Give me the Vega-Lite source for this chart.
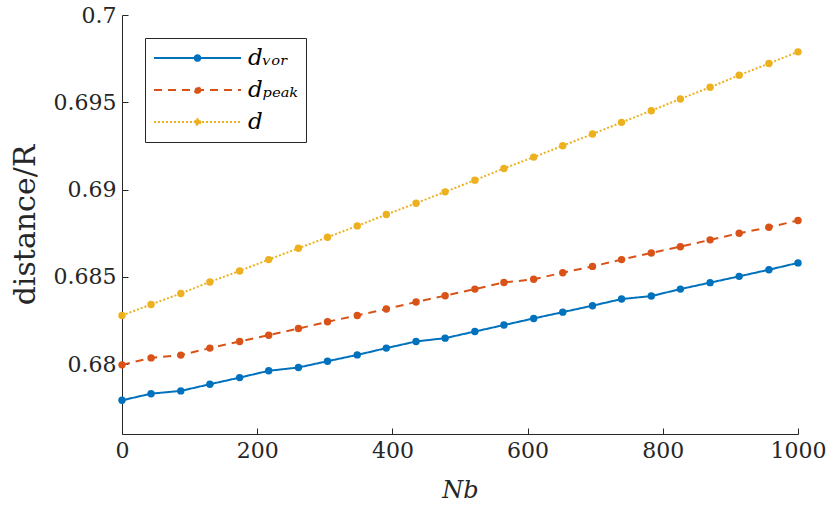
{
  "$schema": "https://vega.github.io/schema/vega-lite/v6.json",
  "width": 676,
  "height": 419,
  "autosize": {"type": "none"},
  "padding": {"left": 122, "top": 15, "right": 34, "bottom": 81},
  "background": "white",
  "config": {
    "font": "DejaVu Serif",
    "view": {"stroke": null},
    "axis": {
      "grid": false,
      "domainColor": "#262626",
      "domainWidth": 1,
      "tickColor": "#262626",
      "tickWidth": 1,
      "tickSize": -6,
      "labelFlush": false,
      "labelColor": "#262626",
      "labelFont": "DejaVu Serif",
      "labelFontSize": 22,
      "titleColor": "#262626",
      "titleFont": "DejaVu Serif",
      "titleFontWeight": "normal"
    },
    "legend": {
      "labelFont": "DejaVu Serif",
      "labelFontStyle": "italic",
      "labelFontSize": 23,
      "labelColor": "#000000"
    }
  },
  "data": {
    "values": [
      {"Nb": 0, "series": "dᵥₒᵣ", "value": 0.67793},
      {"Nb": 43, "series": "dᵥₒᵣ", "value": 0.67831},
      {"Nb": 87, "series": "dᵥₒᵣ", "value": 0.67847},
      {"Nb": 130, "series": "dᵥₒᵣ", "value": 0.67885},
      {"Nb": 174, "series": "dᵥₒᵣ", "value": 0.67923},
      {"Nb": 217, "series": "dᵥₒᵣ", "value": 0.67962},
      {"Nb": 261, "series": "dᵥₒᵣ", "value": 0.67981},
      {"Nb": 304, "series": "dᵥₒᵣ", "value": 0.68017},
      {"Nb": 348, "series": "dᵥₒᵣ", "value": 0.68053},
      {"Nb": 391, "series": "dᵥₒᵣ", "value": 0.68092},
      {"Nb": 435, "series": "dᵥₒᵣ", "value": 0.6813},
      {"Nb": 478, "series": "dᵥₒᵣ", "value": 0.68149},
      {"Nb": 522, "series": "dᵥₒᵣ", "value": 0.68187},
      {"Nb": 565, "series": "dᵥₒᵣ", "value": 0.68224},
      {"Nb": 609, "series": "dᵥₒᵣ", "value": 0.68262},
      {"Nb": 652, "series": "dᵥₒᵣ", "value": 0.68298},
      {"Nb": 696, "series": "dᵥₒᵣ", "value": 0.68335},
      {"Nb": 739, "series": "dᵥₒᵣ", "value": 0.68373},
      {"Nb": 783, "series": "dᵥₒᵣ", "value": 0.6839},
      {"Nb": 826, "series": "dᵥₒᵣ", "value": 0.6843},
      {"Nb": 870, "series": "dᵥₒᵣ", "value": 0.68467},
      {"Nb": 913, "series": "dᵥₒᵣ", "value": 0.68503},
      {"Nb": 957, "series": "dᵥₒᵣ", "value": 0.68541},
      {"Nb": 1000, "series": "dᵥₒᵣ", "value": 0.6858},
      {"Nb": 0, "series": "dₚₑₐₖ", "value": 0.67996},
      {"Nb": 43, "series": "dₚₑₐₖ", "value": 0.68036},
      {"Nb": 87, "series": "dₚₑₐₖ", "value": 0.68052},
      {"Nb": 130, "series": "dₚₑₐₖ", "value": 0.68092},
      {"Nb": 174, "series": "dₚₑₐₖ", "value": 0.6813},
      {"Nb": 217, "series": "dₚₑₐₖ", "value": 0.68166},
      {"Nb": 261, "series": "dₚₑₐₖ", "value": 0.68204},
      {"Nb": 304, "series": "dₚₑₐₖ", "value": 0.68243},
      {"Nb": 348, "series": "dₚₑₐₖ", "value": 0.68279},
      {"Nb": 391, "series": "dₚₑₐₖ", "value": 0.68316},
      {"Nb": 435, "series": "dₚₑₐₖ", "value": 0.68356},
      {"Nb": 478, "series": "dₚₑₐₖ", "value": 0.68392},
      {"Nb": 522, "series": "dₚₑₐₖ", "value": 0.6843},
      {"Nb": 565, "series": "dₚₑₐₖ", "value": 0.68468},
      {"Nb": 609, "series": "dₚₑₐₖ", "value": 0.68486},
      {"Nb": 652, "series": "dₚₑₐₖ", "value": 0.68524},
      {"Nb": 696, "series": "dₚₑₐₖ", "value": 0.6856},
      {"Nb": 739, "series": "dₚₑₐₖ", "value": 0.68599},
      {"Nb": 783, "series": "dₚₑₐₖ", "value": 0.68637},
      {"Nb": 826, "series": "dₚₑₐₖ", "value": 0.68673},
      {"Nb": 870, "series": "dₚₑₐₖ", "value": 0.68712},
      {"Nb": 913, "series": "dₚₑₐₖ", "value": 0.6875},
      {"Nb": 957, "series": "dₚₑₐₖ", "value": 0.68784},
      {"Nb": 1000, "series": "dₚₑₐₖ", "value": 0.68823},
      {"Nb": 0, "series": "d", "value": 0.68279},
      {"Nb": 43, "series": "d", "value": 0.68342},
      {"Nb": 87, "series": "d", "value": 0.68405},
      {"Nb": 130, "series": "d", "value": 0.68471},
      {"Nb": 174, "series": "d", "value": 0.68534},
      {"Nb": 217, "series": "d", "value": 0.68599},
      {"Nb": 261, "series": "d", "value": 0.68664},
      {"Nb": 304, "series": "d", "value": 0.68727},
      {"Nb": 348, "series": "d", "value": 0.68792},
      {"Nb": 391, "series": "d", "value": 0.68857},
      {"Nb": 435, "series": "d", "value": 0.68922},
      {"Nb": 478, "series": "d", "value": 0.68987},
      {"Nb": 522, "series": "d", "value": 0.69054},
      {"Nb": 565, "series": "d", "value": 0.69121},
      {"Nb": 609, "series": "d", "value": 0.69186},
      {"Nb": 652, "series": "d", "value": 0.69251},
      {"Nb": 696, "series": "d", "value": 0.69318},
      {"Nb": 739, "series": "d", "value": 0.69385},
      {"Nb": 783, "series": "d", "value": 0.69452},
      {"Nb": 826, "series": "d", "value": 0.69519},
      {"Nb": 870, "series": "d", "value": 0.69586},
      {"Nb": 913, "series": "d", "value": 0.69655},
      {"Nb": 957, "series": "d", "value": 0.69722},
      {"Nb": 1000, "series": "d", "value": 0.69789}
    ]
  },
  "encoding": {
    "x": {
      "field": "Nb",
      "type": "quantitative",
      "scale": {"domain": [0, 1000], "nice": false},
      "axis": {
        "values": [0, 200, 400, 600, 800, 1000],
        "format": "d",
        "labelPadding": 12,
        "title": "Nb",
        "titleFontSize": 24,
        "titleFontStyle": "italic",
        "titlePadding": 17
      }
    },
    "y": {
      "field": "value",
      "type": "quantitative",
      "scale": {"domain": [0.676, 0.7], "nice": false, "zero": false},
      "axis": {
        "values": [0.68, 0.685, 0.69, 0.695, 0.7],
        "format": ".3~f",
        "labelPadding": 12,
        "title": "distance/R",
        "titleFontSize": 30,
        "titlePadding": 13
      }
    },
    "color": {
      "field": "series",
      "type": "nominal",
      "scale": {
        "domain": ["dᵥₒᵣ", "dₚₑₐₖ", "d"],
        "range": ["#0072BD", "#D95319", "#EDB120"]
      },
      "legend": {
        "title": null,
        "orient": "top-left",
        "offset": 23,
        "padding": 8,
        "fillColor": "white",
        "strokeColor": "#262626",
        "symbolType": "M-1,0H1M0.065,0A0.065,0.065,0,1,1,-0.065,0A0.065,0.065,0,1,1,0.065,0Z",
        "symbolSize": 7569,
        "symbolStrokeWidth": 2,
        "clipHeight": 24,
        "rowPadding": 8,
        "labelOffset": 6,
        "encode": {
          "symbols": {
            "update": {
              "fill": {"scale": "color", "field": "value"},
              "stroke": {"scale": "color", "field": "value"}
            }
          }
        }
      }
    }
  },
  "layer": [
    {
      "mark": {"type": "line", "strokeWidth": 2},
      "encoding": {
        "strokeDash": {
          "field": "series",
          "type": "nominal",
          "scale": {
            "domain": ["dᵥₒᵣ", "dₚₑₐₖ", "d"],
            "range": [[1, 0], [8, 6], [2, 2]]
          },
          "legend": {
            "title": null,
            "orient": "top-left",
            "offset": 23,
            "padding": 8,
            "fillColor": "white",
            "strokeColor": "#262626",
            "symbolType": "M-1,0H1M0.065,0A0.065,0.065,0,1,1,-0.065,0A0.065,0.065,0,1,1,0.065,0Z",
            "symbolSize": 7569,
            "symbolStrokeWidth": 2,
            "clipHeight": 24,
            "rowPadding": 8,
            "labelOffset": 6
          }
        }
      }
    },
    {
      "mark": {"type": "point", "filled": true, "size": 55, "opacity": 1}
    }
  ]
}
